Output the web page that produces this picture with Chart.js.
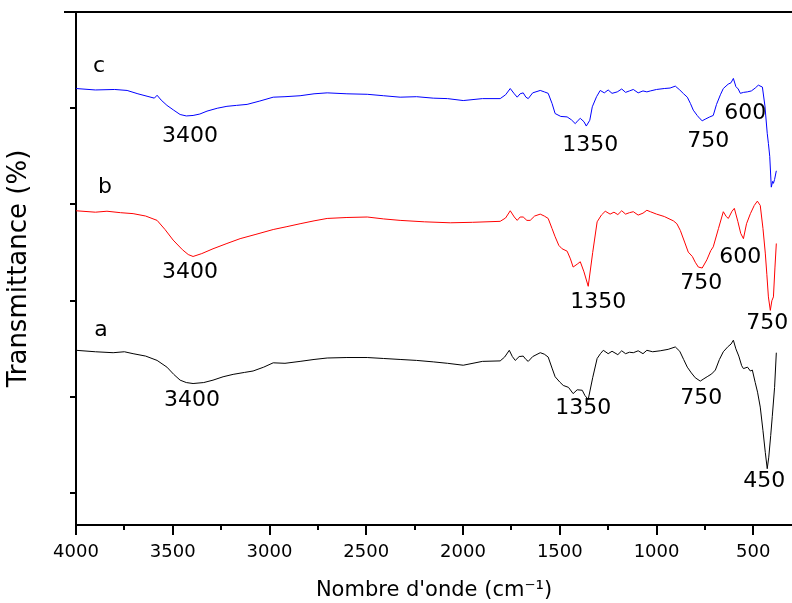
<!DOCTYPE html>
<html>
<head>
<meta charset="utf-8">
<script src="https://cdn.jsdelivr.net/npm/chart.js@4.4.1/dist/chart.umd.min.js"></script>
<style>
  body { margin: 0; background: #fff; }
  canvas { display: block; }
</style>
</head>
<body>
<canvas id="ftir-chart" width="792" height="603"></canvas>
<script>
// Spectre c (bleu)
const wavenumbersC = [4000, 3900, 3800, 3736, 3680, 3633, 3595, 3581, 3560, 3530, 3495, 3462, 3430, 3395, 3360, 3323, 3270, 3220, 3170, 3116, 3050, 2981, 2920, 2842, 2770, 2702, 2600, 2495, 2410, 2325, 2240, 2154, 2080, 1999, 1900, 1808, 1780, 1756, 1735, 1720, 1705, 1689, 1675, 1663, 1640, 1601, 1580, 1560, 1540, 1524, 1495, 1462, 1440, 1420, 1405, 1394, 1375, 1363, 1345, 1332, 1310, 1291, 1270, 1250, 1230, 1203, 1180, 1160, 1140, 1120, 1095, 1070, 1050, 1032, 1000, 960, 930, 903, 880, 860, 841, 825, 810, 790, 775, 764, 745, 725, 707, 690, 670, 655, 630, 615, 603, 590, 578, 567, 550, 531, 510, 490, 474, 453, 440, 428, 422, 415, 407, 400, 396, 390, 381];
const transmittanceC = [84.1, 83.8, 83.9, 83.7, 83.0, 82.5, 82.1, 82.7, 81.7, 80.6, 79.6, 78.7, 78.4, 78.5, 78.8, 79.4, 80.0, 80.4, 80.6, 80.8, 81.5, 82.3, 82.4, 82.6, 83.0, 83.2, 83.0, 82.9, 82.6, 82.3, 82.4, 82.1, 82.0, 81.6, 82.0, 82.0, 82.8, 84.1, 83.0, 82.3, 83.0, 83.2, 82.3, 82.0, 83.2, 83.7, 83.4, 83.1, 81.0, 78.9, 78.3, 78.2, 77.6, 76.8, 77.5, 77.9, 77.2, 76.3, 77.5, 80.3, 82.4, 83.7, 83.2, 83.8, 83.1, 83.4, 84.0, 83.3, 83.6, 83.9, 83.2, 83.6, 83.4, 83.6, 83.9, 84.1, 84.2, 84.6, 83.8, 83.0, 82.3, 81.0, 79.6, 78.5, 77.8, 77.4, 77.8, 78.2, 78.5, 80.8, 82.8, 84.1, 85.0, 85.3, 86.2, 84.5, 84.0, 83.1, 83.3, 83.4, 83.6, 84.2, 84.8, 84.4, 80.5, 74.8, 72.7, 70.0, 63.6, 64.8, 64.4, 65.2, 67.0];

// Spectre b (rouge)
const wavenumbersB = [4000, 3900, 3840, 3770, 3705, 3640, 3581, 3540, 3498, 3450, 3420, 3395, 3350, 3292, 3220, 3152, 3070, 2981, 2910, 2842, 2770, 2702, 2600, 2495, 2410, 2325, 2200, 2066, 1950, 1808, 1780, 1756, 1735, 1720, 1705, 1689, 1670, 1653, 1630, 1601, 1580, 1560, 1540, 1524, 1505, 1488, 1462, 1445, 1431, 1410, 1394, 1375, 1353, 1330, 1307, 1285, 1265, 1240, 1220, 1200, 1180, 1160, 1140, 1120, 1095, 1070, 1050, 1032, 1000, 960, 913, 895, 877, 855, 836, 815, 800, 784, 764, 740, 720, 707, 680, 655, 640, 629, 610, 598, 580, 565, 551, 535, 515, 495, 479, 464, 450, 438, 430, 422, 412, 404, 396, 388, 381];
const transmittanceB = [58.7, 58.4, 58.6, 58.3, 58.1, 57.6, 56.7, 54.8, 52.6, 50.6, 49.6, 49.2, 49.8, 50.8, 51.9, 52.9, 53.8, 54.8, 55.4, 56.0, 56.6, 57.1, 57.3, 57.4, 57.0, 56.7, 56.4, 56.2, 56.3, 56.5, 57.2, 58.7, 57.4, 56.7, 57.4, 57.4, 56.7, 56.7, 57.6, 58.0, 57.6, 57.1, 55.0, 53.3, 51.5, 50.8, 50.3, 48.7, 47.0, 47.6, 48.1, 46.0, 43.0, 50.0, 56.4, 57.8, 58.6, 58.0, 58.4, 57.9, 58.7, 58.0, 58.3, 58.5, 57.8, 58.2, 58.8, 58.5, 58.0, 57.5, 56.6, 56.0, 54.6, 52.2, 50.1, 49.2, 48.0, 47.0, 46.8, 48.5, 50.4, 51.2, 55.0, 58.5, 57.5, 57.1, 58.6, 59.2, 56.5, 54.0, 52.9, 56.0, 58.1, 59.8, 60.7, 59.8, 55.0, 49.9, 45.5, 40.8, 38.0, 40.0, 40.8, 47.0, 51.9];

// Spectre a (noir)
const wavenumbersA = [4000, 3900, 3808, 3750, 3705, 3640, 3581, 3530, 3495, 3462, 3430, 3395, 3340, 3292, 3240, 3188, 3130, 3085, 3030, 2981, 2920, 2842, 2770, 2702, 2600, 2495, 2410, 2325, 2240, 2154, 2080, 1999, 1900, 1808, 1785, 1761, 1745, 1730, 1710, 1689, 1675, 1663, 1640, 1601, 1580, 1560, 1540, 1524, 1500, 1482, 1455, 1431, 1410, 1384, 1370, 1353, 1330, 1307, 1290, 1275, 1250, 1230, 1200, 1180, 1160, 1140, 1120, 1095, 1070, 1050, 1020, 981, 940, 903, 880, 860, 841, 820, 800, 774, 755, 735, 715, 696, 675, 655, 630, 615, 603, 590, 575, 560, 551, 530, 515, 505, 490, 478, 464, 450, 438, 428, 420, 410, 402, 390, 381];
const transmittanceA = [29.7, 29.4, 29.2, 29.4, 29.0, 28.5, 27.6, 26.2, 24.7, 23.5, 23.0, 22.8, 23.0, 23.5, 24.2, 24.7, 25.1, 25.4, 26.2, 27.1, 27.0, 27.4, 27.8, 28.1, 28.2, 28.2, 28.0, 27.8, 27.6, 27.3, 27.0, 26.6, 27.4, 27.5, 28.3, 29.7, 28.4, 27.6, 28.4, 28.5, 27.8, 27.4, 28.4, 29.2, 28.9, 28.3, 26.0, 24.2, 23.1, 22.4, 22.0, 20.7, 21.5, 21.4, 20.3, 19.5, 24.0, 28.0, 29.0, 29.7, 29.0, 29.5, 28.8, 29.6, 29.0, 29.3, 29.2, 29.6, 29.0, 29.7, 29.4, 29.6, 29.9, 30.4, 29.5, 27.8, 26.2, 25.0, 24.0, 23.3, 23.8, 24.3, 24.8, 25.6, 27.8, 29.4, 30.5, 31.0, 31.8, 30.0, 28.5, 26.5, 25.9, 26.2, 25.4, 25.6, 23.0, 21.0, 17.9, 13.0, 8.5, 5.1, 7.5, 12.0, 15.9, 22.0, 29.2];

// Graduations de l'axe des x
const majorTicksX = [4000, 3500, 3000, 2500, 2000, 1500, 1000, 500];
const minorTicksX = [3750, 3250, 2750, 2250, 1750, 1250, 750];

// Annotations : texte, nombre d'onde, transmittance
const peakText = ["c", "3400", "1350", "750", "600",
                  "b", "3400", "1350", "750", "600", "750",
                  "a", "3400", "1350", "750", "450"];
const peakWavenumber = [3881, 3411, 1343, 733, 541,
                        3850, 3411, 1301, 769, 567, 428,
                        3871, 3400, 1379, 769, 443];
const peakValue = [88.7, 74.2, 72.3, 73.1, 79.0,
                   63.6, 45.9, 39.7, 43.6, 49.0, 35.3,
                   33.9, 19.3, 17.7, 19.7, 2.5];

const FONT = "'DejaVu Sans', 'Liberation Sans', Arial, sans-serif";

function toPoints(xs, ys) {
  return xs.map((x, i) => ({ x: x, y: ys[i] }));
}

// Plugin : cadre supérieur, graduations mineures et étiquettes des pics
const decorPlugin = {
  id: "decor",
  afterDraw(chart) {
    const ctx = chart.ctx;
    const area = chart.chartArea;
    const xScale = chart.scales.x;
    const yScale = chart.scales.y;

    ctx.save();
    ctx.strokeStyle = "#000";
    ctx.lineWidth = 2;

    // ligne du haut
    ctx.beginPath();
    ctx.moveTo(area.left - 12, area.top);
    ctx.lineTo(area.right, area.top);
    ctx.stroke();

    // graduations mineures
    minorTicksX.forEach((w) => {
      const px = Math.round(xScale.getPixelForValue(w));
      ctx.beginPath();
      ctx.moveTo(px, area.bottom);
      ctx.lineTo(px, area.bottom + 5);
      ctx.stroke();
    });

    // étiquettes
    ctx.fillStyle = "#000";
    ctx.font = "22px " + FONT;
    ctx.textAlign = "center";
    ctx.textBaseline = "middle";
    peakText.forEach((txt, i) => {
      ctx.fillText(txt, xScale.getPixelForValue(peakWavenumber[i]), yScale.getPixelForValue(peakValue[i]));
    });
    ctx.restore();
  },
};

function initChart() {
  const ctx = document.getElementById("ftir-chart").getContext("2d");

  new Chart(ctx, {
    type: "line",
    data: {
      datasets: [
        { label: "c", data: toPoints(wavenumbersC, transmittanceC), borderColor: "#0000ff", borderWidth: 1 },
        { label: "b", data: toPoints(wavenumbersB, transmittanceB), borderColor: "#ff0000", borderWidth: 1 },
        { label: "a", data: toPoints(wavenumbersA, transmittanceA), borderColor: "#000000", borderWidth: 1 },
      ],
    },
    options: {
      responsive: false,
      animation: false,
      parsing: false,
      layout: { padding: { top: 12, left: 0, right: 0, bottom: 0 } },
      elements: { point: { radius: 0 }, line: { tension: 0 } },
      plugins: { legend: { display: false }, tooltip: { enabled: false } },
      scales: {
        x: {
          type: "linear",
          reverse: true,
          min: 300,
          max: 4000,
          afterBuildTicks: (scale) => {
            scale.ticks = majorTicksX.map((v) => ({ value: v }));
          },
          afterFit: (scale) => { scale.height = 78; },
          border: { color: "#000", width: 2 },
          grid: { drawOnChartArea: false, drawTicks: true, tickLength: 10, color: "#000", lineWidth: 2 },
          ticks: {
            color: "#000",
            padding: 7,
            maxRotation: 0,
            font: { family: FONT, size: 18 },
            callback: (value) => String(value),
          },
          title: {
            display: true,
            text: "Nombre d'onde (cm⁻¹)",
            color: "#000",
            padding: { top: 0, bottom: 0 },
            font: { family: FONT, size: 21 },
          },
        },
        y: {
          min: -6.6,
          max: 100,
          afterFit: (scale) => { scale.width = 76; },
          border: { color: "#000", width: 2 },
          grid: { drawOnChartArea: false, drawTicks: true, tickLength: 6, color: "#000", lineWidth: 2 },
          ticks: { display: false, stepSize: 20, includeBounds: false },
          title: {
            display: true,
            text: "Transmittance (%)",
            color: "#000",
            padding: { top: 4, bottom: 0 },
            font: { family: FONT, size: 26 },
          },
        },
      },
    },
    plugins: [decorPlugin],
  });
}

document.addEventListener("DOMContentLoaded", initChart);
</script>
</body>
</html>
